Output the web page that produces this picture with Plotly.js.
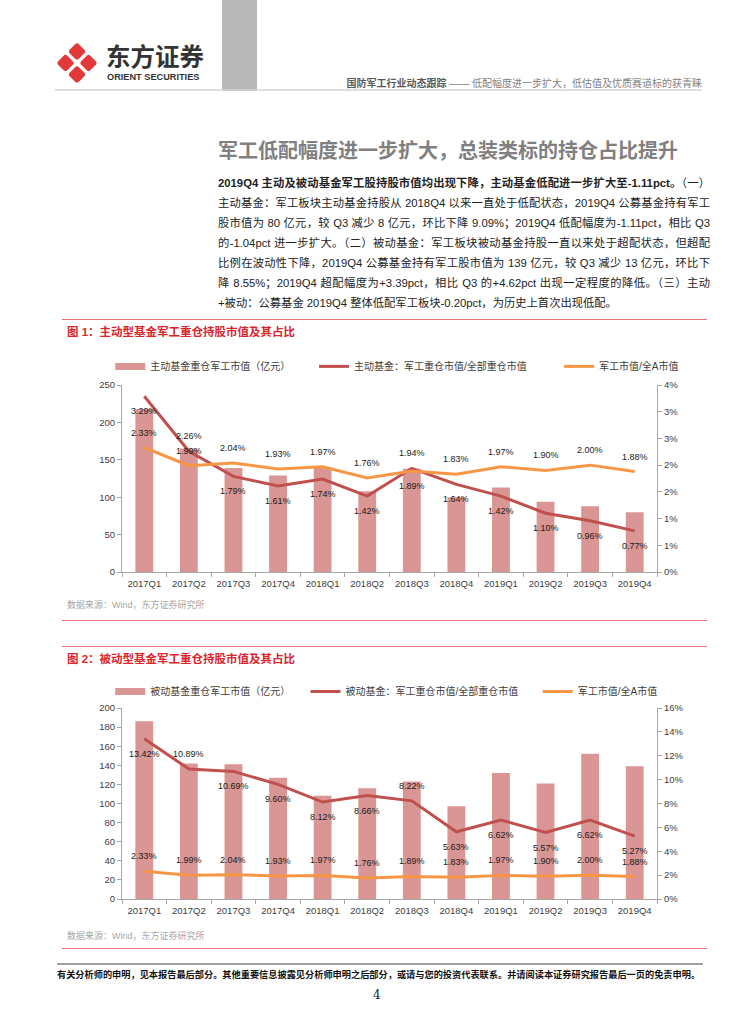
<!DOCTYPE html>
<html>
<head>
<meta charset="utf-8">
<script src="https://cdn.plot.ly/plotly-3.0.1.min.js"></script>
<style>
  html, body { margin: 0; padding: 0; background: #fff; }
  body { width: 754px; height: 1024px; position: relative; overflow: hidden;
         font-family: "Liberation Sans", "Noto Sans CJK SC", sans-serif; }
  .abs { position: absolute; white-space: nowrap; }
  .pline { position: absolute; left: 218px; width: 492px; height: 20px; line-height: 20px;
           font-size: 11.3px; color: #222; text-align: justify; text-align-last: justify; white-space: normal; overflow: visible; }
  .hline { position: absolute; height: 0; }
  .figtitle { position: absolute; left: 67px; font-size: 11.5px; font-weight: bold; color: #d9262c; line-height: 14px; }
  .src { position: absolute; left: 67px; font-size: 9px; color: #a6a6a6; line-height: 12px; }
  .chart { position: absolute; left: 0; width: 754px; height: 270px; }
</style>
</head>
<body>
<!-- header -->
<svg class="abs" style="left:0;top:0" width="754" height="100">
  <rect x="222" y="0" width="35" height="91" fill="#b8b8b8"/>
  <g fill="#e2383a">
    <rect x="70.5" y="45" width="13" height="13" rx="3" transform="rotate(45 77 51.5)"/>
    <rect x="59" y="56.5" width="13" height="13" rx="3" transform="rotate(45 65.5 63)"/>
    <rect x="82" y="56.5" width="13" height="13" rx="3" transform="rotate(45 88.5 63)"/>
    <rect x="70.5" y="68" width="13" height="13" rx="3" transform="rotate(45 77 74.5)"/>
  </g>
  <line x1="55" y1="90" x2="702" y2="90" stroke="#d4d4d4" stroke-width="1.5"/>
</svg>
<div class="abs" style="left:106px;top:44px;font-size:24.5px;line-height:24px;height:24px;font-weight:bold;color:#333;font-family:'Noto Sans CJK SC';">东方证券</div>
<div class="abs" style="left:107px;top:72px;font-size:9.2px;line-height:10px;font-weight:bold;color:#333;font-family:'Liberation Sans';">ORIENT SECURITIES</div>
<div class="abs" style="right:52px;top:78px;font-size:10px;line-height:12px;color:#7f7f7f;"><span style="font-weight:bold;color:#595959;">国防军工行业动态跟踪</span> —— 低配幅度进一步扩大，低估值及优质赛道标的获青睐</div>

<!-- title -->
<div class="abs" style="left:218px;top:137px;font-size:20px;line-height:26px;font-weight:bold;color:#808080;font-family:'Noto Sans CJK SC';">军工低配幅度进一步扩大，总装类标的持仓占比提升</div>

<!-- paragraph -->
<div class="pline" style="top:173px;"><b>2019Q4 主动及被动基金军工股持股市值均出现下降，主动基金低配进一步扩大至-1.11pct。</b>（一）</div>
<div class="pline" style="top:193px;">主动基金：军工板块主动基金持股从 2018Q4 以来一直处于低配状态，2019Q4 公募基金持有军工</div>
<div class="pline" style="top:213px;">股市值为 80 亿元，较 Q3 减少 8 亿元，环比下降 9.09%；2019Q4 低配幅度为-1.11pct，相比 Q3</div>
<div class="pline" style="top:233px;">的-1.04pct 进一步扩大。（二）被动基金：军工板块被动基金持股一直以来处于超配状态，但超配</div>
<div class="pline" style="top:253px;">比例在波动性下降，2019Q4 公募基金持有军工股市值为 139 亿元，较 Q3 减少 13 亿元，环比下</div>
<div class="pline" style="top:273px;">降 8.55%；2019Q4 超配幅度为+3.39pct，相比 Q3 的+4.62pct 出现一定程度的降低。（三）主动</div>
<div class="pline" style="top:293px;text-align:left;text-align-last:left;">+被动：公募基金 2019Q4 整体低配军工板块-0.20pct，为历史上首次出现低配。</div>

<!-- figure 1 -->
<div class="hline" style="left:62px;top:319px;width:645px;border-top:1.5px solid #e57373;"></div>
<div class="figtitle" style="top:325px;">图 1：主动型基金军工重仓持股市值及其占比</div>
<div id="chart1" class="chart" style="top:340px;"></div>
<div class="src" style="top:599px;">数据来源：Wind，东方证券研究所</div>
<div class="hline" style="left:62px;top:620px;width:645px;border-top:1.5px solid #e57373;"></div>

<!-- figure 2 -->
<div class="hline" style="left:62px;top:646px;width:645px;border-top:1.5px solid #e57373;"></div>
<div class="figtitle" style="top:652px;">图 2：被动型基金军工重仓持股市值及其占比</div>
<div id="chart2" class="chart" style="top:665px;"></div>
<div class="src" style="top:930px;">数据来源：Wind，东方证券研究所</div>
<div class="hline" style="left:62px;top:948px;width:645px;border-top:1.5px solid #e57373;"></div>

<!-- footer -->
<div class="hline" style="left:57px;top:963px;width:646px;border-top:2px solid #a0a0a0;"></div>
<div class="abs" style="left:57px;top:969px;font-size:9.2px;line-height:12px;font-weight:bold;color:#111;">有关分析师的申明，见本报告最后部分。其他重要信息披露见分析师申明之后部分，或请与您的投资代表联系。并请阅读本证券研究报告最后一页的免责申明。</div>
<div class="abs" style="left:373px;top:988px;font-size:12px;line-height:14px;color:#222;font-family:'DejaVu Serif','Liberation Serif';">4</div>

<script>
// ---------- data ----------
const categories = ['2017Q1','2017Q2','2017Q3','2017Q4','2018Q1','2018Q2','2018Q3','2018Q4','2019Q1','2019Q2','2019Q3','2019Q4'];

// 图1 主动型基金
const activeValue = [218, 165, 139, 129, 140, 108, 138, 100, 113, 94, 88, 80];           // 亿元
const activeShare = [3.29, 2.26, 1.79, 1.61, 1.74, 1.42, 1.94, 1.64, 1.42, 1.10, 0.96, 0.77]; // %
const militaryShareA1 = [2.33, 1.99, 2.04, 1.93, 1.97, 1.76, 1.89, 1.83, 1.97, 1.90, 2.00, 1.88]; // %

// 图2 被动型基金
const passiveValue = [186, 142, 141, 127, 108, 116, 123, 97, 132, 121, 152, 139];          // 亿元
const passiveShare = [13.42, 10.89, 10.69, 9.60, 8.12, 8.66, 8.22, 5.63, 6.62, 5.57, 6.62, 5.27]; // %
const militaryShareA2 = [2.33, 1.99, 2.04, 1.93, 1.97, 1.76, 1.89, 1.83, 1.97, 1.90, 2.00, 1.88]; // %

// right-axis tick labels of figure 1
const rightTickVals1 = [0, 0.5, 1, 1.5, 2, 2.5, 3, 3.5];
const rightTickText1 = ['0%', '1%', '1%', '2%', '2%', '3%', '3%', '4%'];

// series names
const names1 = ['主动基金重仓军工市值（亿元）', '主动基金：军工重仓市值/全部重仓市值', '军工市值/全A市值'];
const names2 = ['被动基金重仓军工市值（亿元）', '被动基金：军工重仓市值/全部重仓市值', '军工市值/全A市值'];

// ---------- styling ----------
const BAR = '#d99694', RED = '#c0504d', ORANGE = '#f79646';
const FONT = 'Liberation Sans, Noto Sans CJK SC, sans-serif';
const AXC = '#a6a6a6';

// label placement (style only)
const redPos1 = ['b','a','b','b','b','b','a','b','b','b','b','b'];
const orgPos1 = ['a','a','a','a','a','a','b','a','a','a','a','a'];
const redPos2 = ['b','a','b','b','b','b','a','b','b','b','b','b'];
const orgPos2 = ['a','a','a','a','a','a','a','a','a','a','a','a'];

function labels(xs, ys, pos) {
  return xs.map((x, i) => ({
    x: x, y: ys[i], xref: 'x', yref: 'y2',
    text: ys[i].toFixed(2) + '%', showarrow: false,
    yshift: pos[i] === 'a' ? 15 : -15,
    font: {family: FONT, size: 9, color: '#1a1a1a'}
  }));
}

function makeFig(div, values, share, mil, names, yMax, yDtick, y2cfg, pos, legendY, legX) {
  const traces = [
    {type: 'bar', x: categories, y: values, name: names[0], marker: {color: BAR},
     showlegend: false, hoverinfo: 'skip'},
    // legend-only swatch for the bar series (a single empty point, draws no mark)
    {type: 'scatter', mode: 'lines', x: [categories[0]], y: [null], name: names[0],
     line: {color: BAR, width: 7}, legend: 'legend', hoverinfo: 'skip'},
    {type: 'scatter', mode: 'lines', x: categories, y: share, yaxis: 'y2', name: names[1],
     line: {color: RED, width: 3}, legend: 'legend2', hoverinfo: 'skip'},
    {type: 'scatter', mode: 'lines', x: categories, y: mil, yaxis: 'y2', name: names[2],
     line: {color: ORANGE, width: 3}, legend: 'legend3', hoverinfo: 'skip'}
  ];
  const legBase = {orientation: 'h', yanchor: 'middle', y: legendY, xanchor: 'left', itemwidth: 30,
                   bgcolor: 'rgba(0,0,0,0)', font: {family: FONT, size: 10, color: '#404040'}};
  const layout = {
    width: 754, height: 270,
    margin: div.m,
    paper_bgcolor: 'rgba(0,0,0,0)', plot_bgcolor: 'rgba(0,0,0,0)',
    bargap: 0.6,
    font: {family: FONT, size: 9, color: '#404040'},
    showlegend: true,
    legend: Object.assign({}, legBase, {x: legX[0]}),
    legend2: Object.assign({}, legBase, {x: legX[1]}),
    legend3: Object.assign({}, legBase, {x: legX[2]}),
    xaxis: {type: 'category', showline: true, linecolor: AXC, linewidth: 1,
            ticks: 'outside', tickson: 'boundaries', ticklen: 4, tickcolor: AXC,
            ticklabelstandoff: 3,
            tickfont: {family: FONT, size: 9.5, color: '#404040'}, showgrid: false, zeroline: false,
            automargin: false},
    yaxis: {range: [0, yMax], dtick: yDtick, showline: true, linecolor: AXC, linewidth: 1,
            ticks: 'outside', ticklen: 4, tickcolor: AXC, showgrid: false, zeroline: false,
            tickfont: {family: FONT, size: 9.5, color: '#404040'}, automargin: false},
    yaxis2: Object.assign({overlaying: 'y', side: 'right', showline: true, linecolor: AXC, linewidth: 1,
            ticks: 'outside', ticklen: 4, tickcolor: AXC, showgrid: false, zeroline: false,
            tickfont: {family: FONT, size: 9.5, color: '#404040'}, automargin: false}, y2cfg),
    annotations: labels(categories, share, pos[0]).concat(labels(categories, mil, pos[1]))
  };
  Plotly.newPlot(div.id, traces, layout, {displayModeBar: false, staticPlot: true});
}

makeFig({id: 'chart1', m: {l: 122, r: 97, t: 41, b: 38}},
  activeValue, activeShare, militaryShareA1, names1, 250, 50,
  {range: [0, 3.5], tickmode: 'array', tickvals: rightTickVals1, ticktext: rightTickText1},
  [redPos1, orgPos1], 1.0995, [-0.022, 0.359, 0.817]);

makeFig({id: 'chart2', m: {l: 122, r: 97, t: 39, b: 36}},
  passiveValue, passiveShare, militaryShareA2, names2, 200, 20,
  {range: [0, 16], dtick: 2, ticksuffix: '%'},
  [redPos2, orgPos2], 1.087, [-0.022, 0.343, 0.777]);
</script>
</body>
</html>
